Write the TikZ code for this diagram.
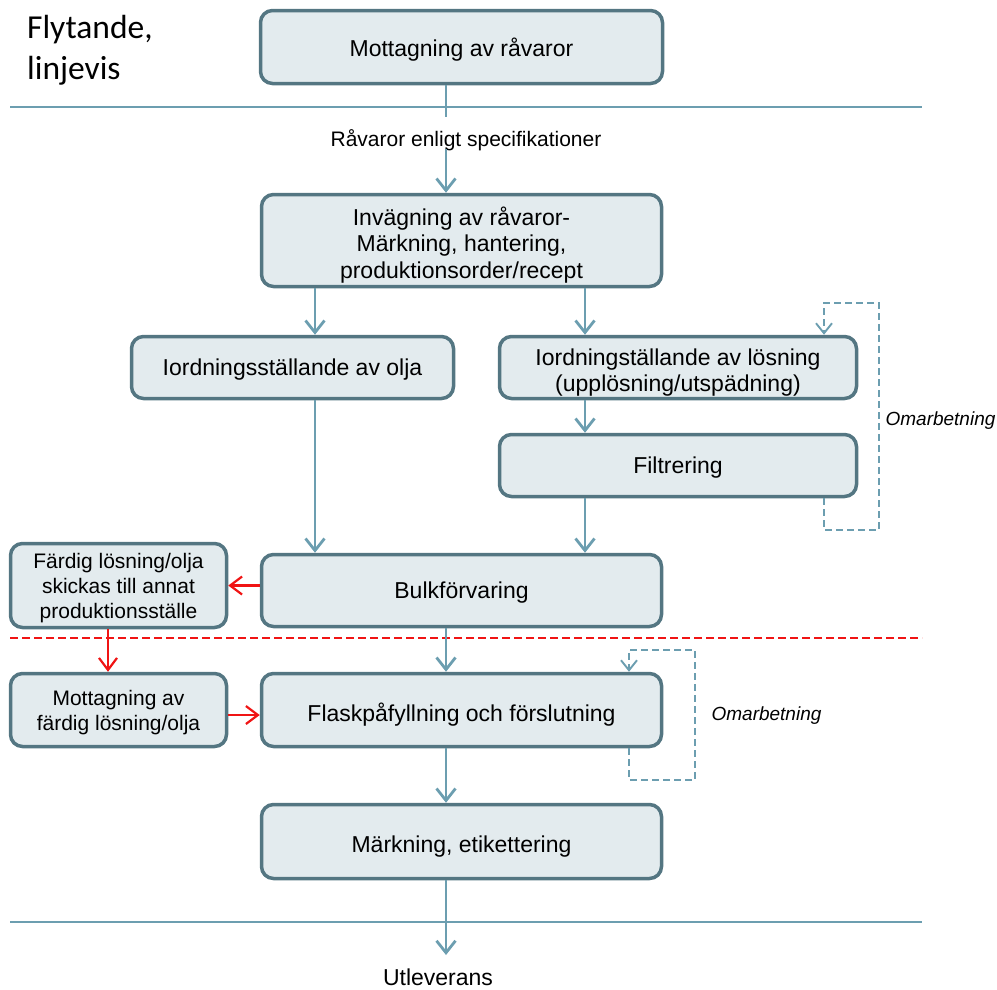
\documentclass[tikz,border=0pt]{standalone}
\usepackage{fontspec}
\setmainfont{Liberation Sans}
\newfontfamily\titlefont{Carlito}
\usetikzlibrary{arrows.meta}

\definecolor{boxline}{RGB}{84,118,130}
\definecolor{boxfill}{RGB}{227,235,238}
\definecolor{flow}{RGB}{108,158,176}
\definecolor{sendred}{RGB}{240,20,20}

% invisible strut that lowers the text of a box slightly
\newcommand\lowtop{\rule{0pt}{22pt}}

\tikzset{
  stepbox/.style={draw=boxline, fill=boxfill, line width=3.5pt, rounded corners=12pt,
    inner sep=0pt, align=center, text depth=0pt, font=\fontsize{23}{26.5}\selectfont},
  sidebox/.style={stepbox, font=\fontsize{21}{25}\selectfont},
  flowline/.style={draw=flow, line width=2.8pt},
  flowarrow/.style={flowline, -{Straight Barb[length=12pt,width=19pt]}},
  rework/.style={draw=flow, line width=1.9pt, dash pattern=on 7pt off 4pt,
    -{Straight Barb[length=10pt,width=16pt]}},
  redarrow/.style={draw=sendred, line width=2.2pt, -{Straight Barb[length=12pt,width=18pt]}},
  sepline/.style={draw=flow, line width=2.6pt},
}

\begin{document}
\begin{tikzpicture}[x=1pt, y=-1pt]
\useasboundingbox (0,0) rectangle (997,989);

% column positions of the vertical flows
\coordinate (spine) at (446,0);
\coordinate (colL) at (315,0);
\coordinate (colR) at (585,0);
\coordinate (colS) at (108,0);

% title
\node[anchor=north west, inner sep=0pt, align=left,
      font=\titlefont\fontsize{33.5}{41}\selectfont] (title) at (27,15) {Flytande,\\linjevis};

% process steps
\node[stepbox, minimum width=402pt, minimum height=73pt] (recv) at (461.5,47) {Mottagning av råvaror};
\node[stepbox, minimum width=400pt, minimum height=92pt] (weigh) at (461.5,240.5)
  {\lowtop Invägning av råvaror-\\Märkning, hantering,\\produktionsorder/recept};
\node[stepbox, minimum width=322pt, minimum height=62pt] (oil) at (292.5,367.5) {Iordningsställande av olja};
\node[stepbox, minimum width=357pt, minimum height=62pt] (sol) at (678,367.5)
  {\lowtop Iordningställande av lösning\\(upplösning/utspädning)};
\node[stepbox, minimum width=357pt, minimum height=62pt] (filt) at (678,465.5) {Filtrering};
\node[stepbox, minimum width=400pt, minimum height=72pt] (bulk) at (461.5,590.5) {Bulkförvaring};
\node[sidebox, minimum width=216pt, minimum height=84pt] (ship) at (118.5,585.5)
  {Färdig lösning/olja\\skickas till annat\\produktionsställe};
\node[sidebox, minimum width=216pt, minimum height=73pt] (recvf) at (118.5,710)
  {Mottagning av\\färdig lösning/olja};
\node[stepbox, minimum width=400pt, minimum height=73pt] (fill) at (461.5,710) {\lowtop Flaskpåfyllning och förslutning};
\node[stepbox, minimum width=400pt, minimum height=74pt] (label) at (461.5,841.5) {\lowtop Märkning, etikettering};

% texts between the steps
\node[anchor=base, inner sep=0pt, font=\fontsize{21}{24}\selectfont] (spec) at (466,146.5)
  {Råvaror enligt specifikationer};
\node[anchor=base, inner sep=0pt, font=\fontsize{23}{26}\selectfont] (out) at (438,985) {Utleverans};
\node[inner sep=0pt, font=\fontsize{19}{22}\selectfont\itshape] (rw1) at (940.5,421) {Omarbetning};
\node[inner sep=0pt, font=\fontsize{19}{22}\selectfont\itshape] (rw2) at (766.5,716) {Omarbetning};

% separator lines
\coordinate (topL) at (10,107);  \coordinate (topR) at (922,107);
\coordinate (botL) at (10,922);  \coordinate (botR) at (922,922);
\coordinate (redL) at (10,638);  \coordinate (redR) at (922,638);
\draw[sepline] (topL) -- (topR);
\draw[sepline] (botL) -- (botR);
\draw[draw=sendred, line width=1.7pt, dash pattern=on 8pt off 4pt] (redL) -- (redR);

% main flow
\coordinate (specTop) at (446,117);
\coordinate (specBot) at (446,149);
\coordinate (outEnd) at (446,955);
\draw[flowline] (recv.south -| spine) -- (specTop);
\draw[flowarrow] (specBot) -- (weigh.north -| spine);
\draw[flowarrow] (weigh.south -| colL) -- (oil.north -| colL);
\draw[flowarrow] (weigh.south -| colR) -- (sol.north -| colR);
\draw[flowarrow] (sol.south -| colR) -- (filt.north -| colR);
\draw[flowarrow] (oil.south -| colL) -- (bulk.north -| colL);
\draw[flowarrow] (filt.south -| colR) -- (bulk.north -| colR);
\draw[flowarrow] (bulk.south -| spine) -- (fill.north -| spine);
\draw[flowarrow] (fill.south -| spine) -- (label.north -| spine);
\draw[flowarrow] (label.south -| spine) -- (outEnd);

% rework loops
\coordinate (lp1) at (824,0);
\coordinate (r1b) at (879,530);
\coordinate (r1t) at (879,303);
\draw[rework] (filt.south -| lp1) |- (r1b) -- (r1t) -| (sol.north -| lp1);
\coordinate (lp2) at (629,0);
\coordinate (r2b) at (695,780);
\coordinate (r2t) at (695,650);
\draw[rework] (fill.south -| lp2) |- (r2b) -- (r2t) -| (fill.north -| lp2);

% transfer to and from another production site
\coordinate (recvY) at (0,715);
\draw[redarrow] (bulk.west |- ship.east) -- (ship.east);
\draw[redarrow] (ship.south -| colS) -- (recvf.north -| colS);
\draw[redarrow] (recvf.east |- recvY) -- (fill.west |- recvY);
\end{tikzpicture}
\end{document}
